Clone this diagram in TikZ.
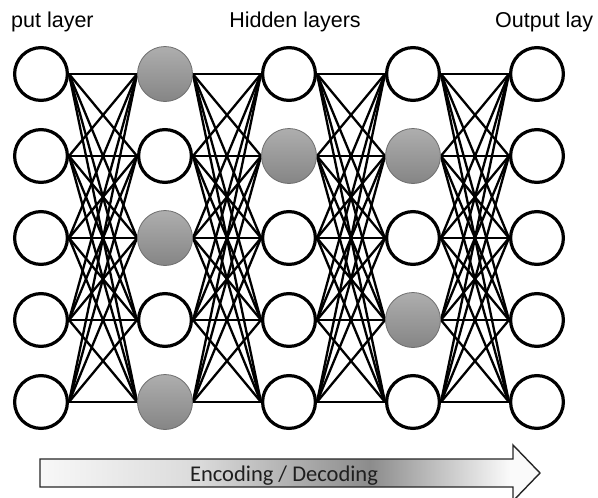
\documentclass[tikz,border=0pt]{standalone}
\usepackage{fontspec}
\setmainfont{Liberation Sans}
\newfontfamily\carlito{Carlito}
\usetikzlibrary{backgrounds}

\definecolor{nodelight}{HTML}{AEAEAE}
\definecolor{nodedark}{HTML}{858585}
\definecolor{nodeedge}{HTML}{6E6E6E}
\definecolor{arrA}{HTML}{F8F8F8}
\definecolor{arrB}{HTML}{DADADA}
\definecolor{arrC}{HTML}{8C8C8C}
\definecolor{arrD}{HTML}{FAFAFA}

% light - dark - light band for the process arrow (box mapped to 25bp..75bp)
\pgfdeclarehorizontalshading{encdec}{100bp}{color(0bp)=(arrA); color(25bp)=(arrA); color(41bp)=(arrB); color(58bp)=(arrC); color(72bp)=(arrD); color(100bp)=(arrD)}
% grey neurons: lighter at the top
\pgfdeclareverticalshading{neuronshade}{100bp}{color(0bp)=(nodedark); color(25bp)=(nodedark); color(75bp)=(nodelight); color(100bp)=(nodelight)}

\tikzset{
  plainnode/.style={circle, draw=black, line width=3.2pt, fill=white, minimum size=52.8pt, inner sep=0pt},
  shadenode/.style={circle, draw=nodeedge, line width=0.8pt, shading=neuronshade, minimum size=55pt, inner sep=0pt},
  link/.style={draw=black, line width=2.3pt},
  layerlabel/.style={font=\fontsize{21.5}{21.5}\selectfont, inner sep=0pt},
}

\begin{document}
\begin{tikzpicture}[x=1pt, y=-1pt]
\path[use as bounding box] (0,0) rectangle (598,498);

% neurons, column by column
\foreach \c/\x/\a/\b/\d/\e/\f in {
    1/41/plainnode/plainnode/plainnode/plainnode/plainnode,
    2/165/shadenode/plainnode/shadenode/plainnode/shadenode,
    3/289/plainnode/shadenode/plainnode/plainnode/plainnode,
    4/413/plainnode/shadenode/plainnode/shadenode/plainnode,
    5/537/plainnode/plainnode/plainnode/plainnode/plainnode} {
  \node[\a] (n\c1) at (\x,74)  {};
  \node[\b] (n\c2) at (\x,156) {};
  \node[\d] (n\c3) at (\x,238) {};
  \node[\e] (n\c4) at (\x,320) {};
  \node[\f] (n\c5) at (\x,402) {};
}

% fully connected links behind the neurons
\begin{scope}[on background layer]
  \fill[white] (0,0) rectangle (598,498);
  \foreach \c [evaluate=\c as \n using int(\c+1)] in {1,...,4}
    \foreach \i in {1,...,5}
      \foreach \j in {1,...,5}
        \draw[link] (n\c\i.east) -- (n\n\j.west);
\end{scope}

% layer titles
\node[layerlabel, anchor=base west] (lin)  at (11,27)  {put layer};
\node[layerlabel, anchor=base]      (lhid) at (295,27) {Hidden layers};
\node[layerlabel, anchor=base west] (lout) at (495,27) {Output lay};

% process arrow
\draw[line width=1.4pt, draw=black!85, shading=encdec]
  (40,459) -- (513,459) -- (513,445) -- (540,473) -- (513,501) -- (513,487) -- (40,487) -- cycle;
\node[font=\carlito\fontsize{22.5}{22.5}\selectfont, text=black!88, anchor=base, inner sep=0pt] (enc) at (284,481) {Encoding / Decoding};
\end{tikzpicture}
\end{document}
